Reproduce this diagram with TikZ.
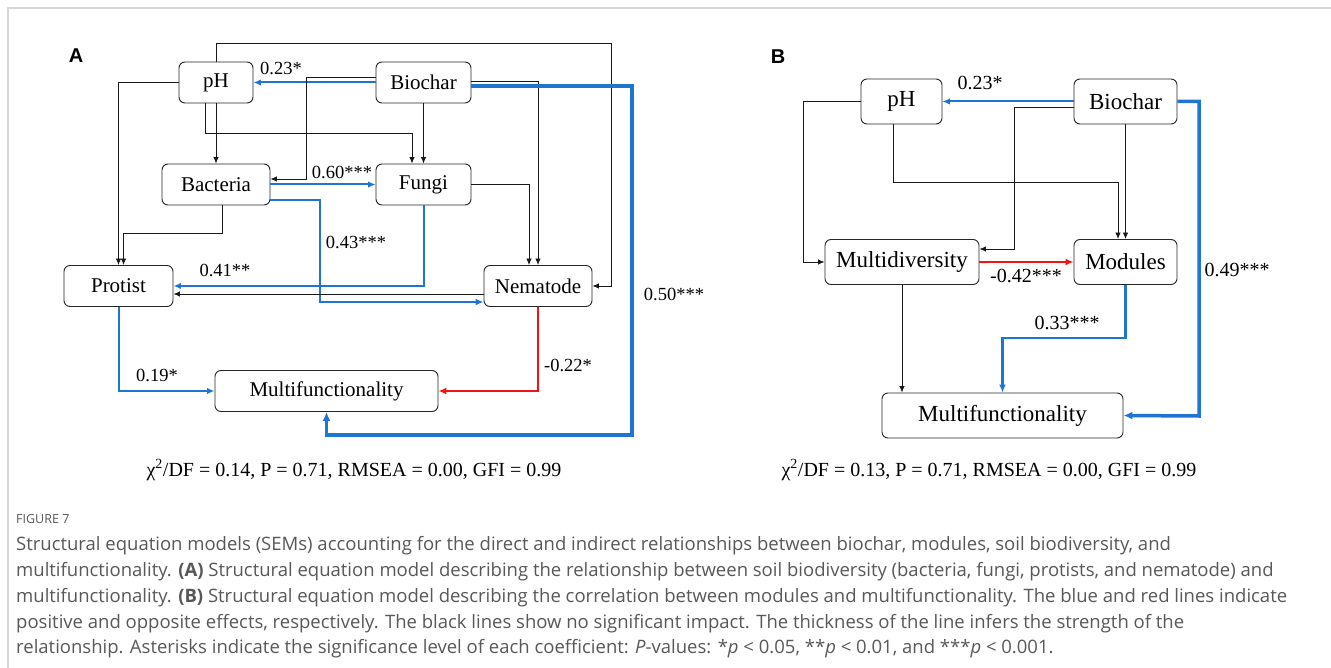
\documentclass[tikz,border=0pt]{standalone}
\usepackage{fontspec}
\setmainfont{Liberation Serif}
\newfontfamily\capfont{Open Sans}
\newfontfamily\labfont{Liberation Sans}
\usetikzlibrary{arrows.meta,calc}
\definecolor{myblue}{RGB}{30,118,210}
\definecolor{myred}{RGB}{240,20,20}
\definecolor{capgray}{RGB}{88,88,88}
\definecolor{framegray}{RGB}{214,214,214}
\begin{document}
\begin{tikzpicture}[x=1pt,y=-1pt,
  box/.style={draw=black!85, line width=0.9pt, rounded corners=6pt, inner sep=0pt},
  boxA/.style={box, minimum height=41pt, font=\fontsize{21}{24}\selectfont},
  boxB/.style={box, minimum height=45pt, font=\fontsize{23}{26}\selectfont},
  blk/.style={draw=black!90, line width=0.9pt, -{Latex[length=6.5pt,width=5.5pt]}},
  blu/.style={draw=myblue, line width=2pt, -{Latex[length=7.5pt,width=6.5pt]}},
  bluM/.style={draw=myblue, line width=2.6pt, -{Latex[length=8pt,width=7pt]}},
  bluT/.style={draw=myblue, line width=3.5pt, -{Latex[length=9pt,width=8pt]}},
  rdd/.style={draw=myred, line width=2.6pt, -{Latex[length=8pt,width=7pt]}},
  labA/.style={inner sep=0pt, font=\fontsize{18.5}{20}\selectfont},
  labB/.style={inner sep=0pt, font=\fontsize{20}{22}\selectfont},
  panel/.style={inner sep=0pt, font=\labfont\bfseries\fontsize{20}{22}\selectfont},
  stat/.style={inner sep=0pt, font=\fontsize{20}{22}\selectfont},
  capline/.style={anchor=base west, inner sep=0pt, text=capgray, font=\capfont\fontsize{18.5}{20}\selectfont}
]
\useasboundingbox (0,0) rectangle (1331,668);
\fill[white] (0,0) rectangle (1331,668);
\draw[framegray, line width=2pt] (8,668) -- (8,8) -- (1331,8);

% ---------- Panel A ----------
\node[panel] (pA) at (76,56) {A};
\node[boxA, minimum width=74pt]  (pHA)   at (216,82.5)   {pH};
\node[boxA, minimum width=95pt]  (bioA)  at (423.5,82.5) {Biochar};
\node[boxA, minimum width=108pt] (bacA)  at (216,184.5)  {Bacteria};
\node[boxA, minimum width=95pt]  (fungA) at (423.5,184.5){Fungi};
\node[boxA, minimum width=109pt] (protA) at (118.5,286)  {Protist};
\node[boxA, minimum width=108pt] (nemA)  at (538,286)    {Nematode};
\node[boxA, minimum width=223pt] (mfA)   at (326.5,391)  {Multifunctionality};

\draw[blk] (pHA.north) |- (611,43) |- (nemA.east);
\draw[blu] (bioA.west) -- (pHA.east);
\draw[blk] ([yshift=5.5pt]bioA.west) -| (306,179) -- ([yshift=5.5pt]bacA.east);
\draw[blk] ([xshift=-11pt]pHA.south) |- (412,133) -- ([xshift=-11.5pt]fungA.north);
\draw[blk] (pHA.south) -- (bacA.north);
\draw[blk] (bioA.south) -- (fungA.north);
\draw[blk] (pHA.west) -| (protA.north);
\draw[blk] ([xshift=6pt]bacA.south) |- (123.5,233) -- ([xshift=5pt]protA.north);
\draw[blu] (bacA.east) -- (fungA.west);
\draw[bluM] ([yshift=-15.5pt]bacA.east) -| (320,302) -- ([yshift=-16pt]nemA.west);
\draw[blu] (fungA.south) |- (protA.east);
\draw[blk] ([yshift=-8pt]nemA.west) -- ([yshift=-8pt]protA.east);
\draw[blk] (fungA.east) -| ([xshift=-9pt]nemA.north);
\draw[blk] ([yshift=1.5pt]bioA.east) -| (nemA.north);
\draw[bluT] ([yshift=-3.5pt]bioA.east) -| (632,435) -| (mfA.south);
\draw[blu] (protA.south) |- (mfA.west);
\draw[rdd] (nemA.south) |- (mfA.east);

\node[labA] (l1) at (281,68)  {0.23*};
\node[labA] (l2) at (342,172) {0.60***};
\node[labA] (l3) at (356,242) {0.43***};
\node[labA] (l4) at (225,270) {0.41**};
\node[labA] (l5) at (157,375) {0.19*};
\node[labA] (l6) at (568,365) {-0.22*};
\node[labA] (l7) at (674,294) {0.50***};

\node[stat] (sA) at (354,470) {χ\textsuperscript{2}/DF = 0.14, P = 0.71, RMSEA = 0.00, GFI = 0.99};

% ---------- Panel B ----------
\node[panel] (pB) at (778,57) {B};
\node[boxB, minimum width=81pt]  (pHB)  at (901.5,101.5)  {pH};
\node[boxB, minimum width=103pt] (bioB) at (1125.5,101.5) {Biochar};
\node[boxB, minimum width=154pt] (mdB)  at (902,262)      {Multidiversity};
\node[boxB, minimum width=103pt] (modB) at (1125.5,262)   {Modules};
\node[boxB, minimum width=241pt] (mfB)  at (1002.5,415.5) {Multifunctionality};

\draw[blu] (bioB.west) -- (pHB.east);
\draw[blk] ([yshift=-5.5pt]bioB.west) -| (1014,249) -- ([yshift=13pt]mdB.east);
\draw[blk] (pHB.west) -| ([xshift=-21pt]mdB.west) -- (mdB.west);
\draw[blk] ([xshift=-8.5pt]pHB.south) |- (1118,182) -- ([xshift=-7.5pt]modB.north);
\draw[blk] (bioB.south) -- (modB.north);
\draw[rdd] (mdB.east) -- (modB.west);
\draw[blk] (mdB.south) -- (mdB.south |- mfB.north);
\draw[bluM] (modB.south) |- (1002.5,338) -- (mfB.north);
\draw[bluT] (bioB.east) -| (1199,416) -- (mfB.east);

\node[labB] (m1) at (980,83)   {0.23*};
\node[labB] (m2) at (1026,276) {-0.42***};
\node[labB] (m3) at (1067,323) {0.33***};
\node[labB] (m4) at (1237,270) {0.49***};

\node[stat] (sB) at (989,470) {χ\textsuperscript{2}/DF = 0.13, P = 0.71, RMSEA = 0.00, GFI = 0.99};

% ---------- Caption ----------
\node[anchor=base west, inner sep=0pt, text=capgray, font=\capfont\fontsize{12.5}{14}\selectfont] (fig) at (16,523) {FIGURE 7};
\node[capline] (c1) at (16,550) {Structural equation models (SEMs) accounting for the direct and indirect relationships between biochar, modules, soil biodiversity, and};
\node[capline] (c2) at (16,576) {multifunctionality. \textbf{(A)} Structural equation model describing the relationship between soil biodiversity (bacteria, fungi, protists, and nematode) and};
\node[capline] (c3) at (16,602) {multifunctionality. \textbf{(B)} Structural equation model describing the correlation between modules and multifunctionality. The blue and red lines indicate};
\node[capline] (c4) at (16,628) {positive and opposite effects, respectively. The black lines show no significant impact. The thickness of the line infers the strength of the};
\node[capline] (c5) at (16,653) {relationship. Asterisks indicate the significance level of each coefficient: \textit{P}-values: *\textit{p} < 0.05, **\textit{p} < 0.01, and ***\textit{p} < 0.001.};
\end{tikzpicture}
\end{document}
